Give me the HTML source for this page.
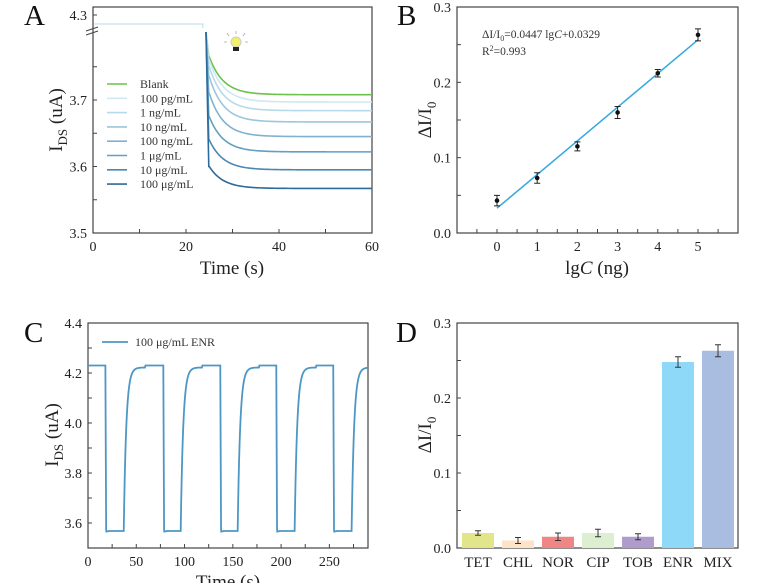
<!DOCTYPE html>
<html><head><meta charset="utf-8"><style>
body{margin:0;background:#fff}
svg{display:block;font-family:"Liberation Serif",serif}
</style></head><body>
<svg id="fig" width="780" height="583" viewBox="0 0 780 583" xmlns="http://www.w3.org/2000/svg"></svg>
<script>
// ---------- Panel A data ----------
const aLabels=["Blank","100 pg/mL","1 ng/mL","10 ng/mL","100 ng/mL","1 μg/mL","10 μg/mL","100 μg/mL"];
const aFinal=[3.708,3.697,3.684,3.667,3.645,3.622,3.595,3.567];
const aKnee=[3.765,3.76,3.75,3.735,3.71,3.675,3.64,3.60];
const aColors=["#6cc24a","#cfe8f3","#b7d9ea","#9cc6dc","#80b2d0","#629fc3","#4a88b2","#2e6b9a"];
const aXTicks=[0,20,40,60];
const aYTicks=[3.5,3.6,3.7];
// ---------- Panel B data ----------
const bX=[0,1,2,3,4,5];
const bY=[0.043,0.073,0.115,0.160,0.212,0.263];
const bErr=[0.007,0.007,0.006,0.008,0.005,0.008];
const bSlope=0.0447, bIntercept=0.0329;
const bYTicks=[0.0,0.1,0.2,0.3];
// ---------- Panel C data ----------
const cOff=[18,78,137,195,254];
const cOn=[37,96,155,214,273];
const cHigh=4.23, cLow=3.565;
const cXTicks=[0,50,100,150,200,250];
const cYTicks=[3.6,3.8,4.0,4.2,4.4];
// ---------- Panel D data ----------
const dCats=["TET","CHL","NOR","CIP","TOB","ENR","MIX"];
const dVals=[0.020,0.010,0.015,0.020,0.015,0.248,0.263];
const dErr=[0.003,0.004,0.005,0.005,0.004,0.007,0.008];
const dColors=["#e3e58a","#fde3c8","#f08585","#dcefd0","#b09ccc","#8ed8f8","#a9bde0"];
const dYTicks=[0.0,0.1,0.2,0.3];

const NS="http://www.w3.org/2000/svg";
const svg=document.getElementById('fig');
function el(tag,attrs,parent,text){const e=document.createElementNS(NS,tag);for(const k in attrs)e.setAttribute(k,attrs[k]);if(text!==undefined)e.textContent=text;(parent||svg).appendChild(e);return e;}
function lin(d0,d1,r0,r1){return v=>r0+(v-d0)*(r1-r0)/(d1-d0);}
function frame(x0,y0,x1,y1,name){const r=el('rect',{x:x0,y:y0,width:x1-x0,height:y1-y0,fill:'none',stroke:'#444','stroke-width':1.2});}
function ytick(x0,y,label,name){const l=el('line',{x1:x0,y1:y,x2:x0+4,y2:y,stroke:'#444'});
 if(label!==null){const t=el('text',{x:x0-6,y:y+5,'text-anchor':'end','font-size':14,fill:'#222'},svg,label);}}
function xtick(x,y0,label,name){const l=el('line',{x1:x,y1:y0,x2:x,y2:y0-4,stroke:'#444'});
 if(label!==null){const t=el('text',{x:x,y:y0+18,'text-anchor':'middle','font-size':14,fill:'#222'},svg,label);}}
function panelLetter(x,y,s){const t=el('text',{x:x,y:y,'font-size':29,fill:'#111'},svg,s);}

// ===== Panel A =====
(function(){
 const X0=93,X1=372,Y0=7,Y1=233;
 const xs=lin(0,60,X0,X1), ys=lin(3.5,3.7,Y1,100);
 frame(X0,Y0,X1,Y1,'panel-a-frame');
 panelLetter(24,25,'A');
 aYTicks.forEach(v=>ytick(X0,ys(v),v.toFixed(1),'a-y'));
 [3.55,3.65,3.75].forEach(v=>ytick(X0,ys(v),null,'a-y-minor'));
 ytick(X0,15,'4.3','a-y-break');
 aXTicks.forEach(v=>xtick(xs(v),Y1,String(v),'a-x'));
 [10,30,50].forEach(v=>xtick(xs(v),Y1,null,'a-x-minor'));
 const br=el('path',{d:'M86 31 L98 27 M86 35 L98 31',stroke:'#444',fill:'none'});
 const base=el('path',{d:`M${xs(0.3)} 24 L${xs(23.6)} 24 L${xs(23.6)} 28`,stroke:'#cfe8f3',fill:'none','stroke-width':1.6});
 aFinal.forEach((f,i)=>{
  let d=`M${xs(24.3)} 32 L${xs(24.9)} ${ys(aKnee[i])}`;
  for(let t=25;t<=60;t+=0.5){const v=f+(aKnee[i]-f)*Math.exp(-(t-25)/3);d+=` L${xs(t)} ${ys(v)}`;}
  const p=el('path',{d:d,stroke:aColors[i],fill:'none','stroke-width':1.6});
  
  const ly=84+i*14.3;
  const ll=el('line',{x1:107,y1:ly,x2:127,y2:ly,stroke:aColors[i],'stroke-width':1.6});
  const lt=el('text',{x:140,y:ly+4,'font-size':12,fill:'#333'},svg,aLabels[i]);
 });
 const g=el('g',{});
 el('circle',{cx:236,cy:42,r:5,fill:'#f3ef6a',stroke:'#ccc'},g);
 el('rect',{x:233,y:47,width:6,height:4,fill:'#222'},g);
 [[-9,0,-12,0],[9,0,12,0],[-7,-6,-9,-9],[7,-6,9,-9],[0,-8,0,-11]].forEach(a=>el('line',{x1:236+a[0],y1:42+a[1],x2:236+a[2],y2:42+a[3],stroke:'#bbb'},g));
 const yl=el('text',{transform:'translate(62,120) rotate(-90)','text-anchor':'middle','font-size':19,fill:'#222'},svg);
 yl.innerHTML='I<tspan font-size="13" dy="5">DS</tspan><tspan dy="-5"> (uA)</tspan>';
 const xl=el('text',{x:232,y:274,'text-anchor':'middle','font-size':19,fill:'#222'},svg,'Time (s)');
})();

// ===== Panel B =====
(function(){
 const X0=457,X1=738,Y0=7,Y1=233;
 const xs=lin(0,5,497,698), ys=lin(0,0.3,Y1,Y0);
 frame(X0,Y0,X1,Y1,'panel-b-frame');
 panelLetter(397,25,'B');
 bYTicks.forEach(v=>ytick(X0,ys(v),v.toFixed(1),'b-y'));
 [0.05,0.15,0.25].forEach(v=>ytick(X0,ys(v),null,'b-y-minor'));
 bX.forEach(v=>xtick(xs(v),Y1,String(v),'b-x'));
 [-0.5,0.5,1.5,2.5,3.5,4.5,5.5].forEach(v=>xtick(xs(v),Y1,null,'b-x-minor'));
 const fl=el('line',{x1:xs(0),y1:ys(bIntercept),x2:xs(5),y2:ys(bIntercept+5*bSlope),stroke:'#35a8e0','stroke-width':1.5});
 bX.forEach((x,i)=>{
  const cx=xs(x),t=ys(bY[i]+bErr[i]),b=ys(bY[i]-bErr[i]);
  const e=el('path',{d:`M${cx} ${t} L${cx} ${b} M${cx-3} ${t} L${cx+3} ${t} M${cx-3} ${b} L${cx+3} ${b}`,stroke:'#222',fill:'none'});
  const c=el('circle',{cx:cx,cy:ys(bY[i]),r:2.3,fill:'#111'});
 });
 const eq=el('text',{x:482,y:38,'font-size':11.5,fill:'#333'},svg);
 eq.innerHTML='ΔI/I<tspan font-size="8" dy="3">0</tspan><tspan dy="-3">=0.0447 lg</tspan><tspan font-style="italic">C</tspan>+0.0329';
 const r2=el('text',{x:482,y:55,'font-size':11.5,fill:'#333'},svg);
 r2.innerHTML='R<tspan font-size="8" dy="-4">2</tspan><tspan dy="4">=0.993</tspan>';
 const yl=el('text',{transform:'translate(431,120) rotate(-90)','text-anchor':'middle','font-size':19,fill:'#222'},svg);
 yl.innerHTML='ΔI/I<tspan font-size="13" dy="5">0</tspan>';
 const xl=el('text',{x:597,y:274,'text-anchor':'middle','font-size':19,fill:'#222'},svg);
 xl.innerHTML='lg<tspan font-style="italic">C</tspan> (ng)';
})();

// ===== Panel C =====
(function(){
 const X0=88,X1=368,Y0=323,Y1=548;
 const xs=lin(0,290,X0,X1), ys=lin(3.5,4.4,Y1,Y0);
 frame(X0,Y0,X1,Y1,'panel-c-frame');
 panelLetter(24,342,'C');
 cYTicks.forEach(v=>ytick(X0,ys(v),v.toFixed(1),'c-y'));
 [3.7,3.9,4.1,4.3].forEach(v=>ytick(X0,ys(v),null,'c-y-minor'));
 cXTicks.forEach(v=>xtick(xs(v),Y1,String(v),'c-x'));
 [25,75,125,175,225,275].forEach(v=>xtick(xs(v),Y1,null,'c-x-minor'));
 let d=`M${xs(0)} ${ys(cHigh)}`;
 cOff.forEach((off,i)=>{
  d+=` L${xs(off)} ${ys(cHigh)} L${xs(off+0.8)} ${ys(cLow+0.01)}`;
  for(let t=off+1;t<cOn[i];t+=1){d+=` L${xs(t)} ${ys(cLow+0.003*Math.min(1,(t-off)/4))}`;}
  const on=cOn[i];d+=` L${xs(on)} ${ys(cLow+0.003)}`;
  const end=i+1<cOff.length?cOff[i+1]:290;
  for(let t=on+0.5;t<=end;t+=0.5){let v=cLow+(cHigh-0.008-cLow)*(1-Math.exp(-(t-on)/2.6));if(t>on+22)v=cHigh;d+=` L${xs(t)} ${ys(v)}`;}
 });
 const p=el('path',{d:d,stroke:'#4d97c4',fill:'none','stroke-width':1.8});
 const ll=el('line',{x1:102,y1:342,x2:128,y2:342,stroke:'#4d97c4','stroke-width':1.8});
 const lt=el('text',{x:135,y:346,'font-size':12,fill:'#333'},svg,'100 μg/mL ENR');
 const yl=el('text',{transform:'translate(58,435) rotate(-90)','text-anchor':'middle','font-size':19,fill:'#222'},svg);
 yl.innerHTML='I<tspan font-size="13" dy="5">DS</tspan><tspan dy="-5"> (uA)</tspan>';
 const xl=el('text',{x:228,y:588,'text-anchor':'middle','font-size':19,fill:'#222'},svg,'Time (s)');
})();

// ===== Panel D =====
(function(){
 const X0=457,X1=738,Y0=323,Y1=548;
 const ys=lin(0,0.3,Y1,Y0); const xs=i=>478+i*40;
 frame(X0,Y0,X1,Y1,'panel-d-frame');
 panelLetter(396,342,'D');
 dYTicks.forEach(v=>ytick(X0,ys(v),v.toFixed(1),'d-y'));
 [0.05,0.15,0.25].forEach(v=>ytick(X0,ys(v),null,'d-y-minor'));
 dCats.forEach((c,i)=>{
  const cx=xs(i);
  const r=el('rect',{x:cx-16,y:ys(dVals[i]),width:32,height:Y1-ys(dVals[i]),fill:dColors[i]});
  const t=ys(dVals[i]+dErr[i]),b=ys(dVals[i]-dErr[i]);
  const e=el('path',{d:`M${cx} ${t} L${cx} ${b} M${cx-3} ${t} L${cx+3} ${t} M${cx-3} ${b} L${cx+3} ${b}`,stroke:'#333',fill:'none'});
  const lb=el('text',{x:cx,y:567,'text-anchor':'middle','font-size':15,fill:'#222'},svg,c);
 });
 const yl=el('text',{transform:'translate(431,435) rotate(-90)','text-anchor':'middle','font-size':19,fill:'#222'},svg);
 yl.innerHTML='ΔI/I<tspan font-size="13" dy="5">0</tspan>';
})();
</script>
</body></html>
